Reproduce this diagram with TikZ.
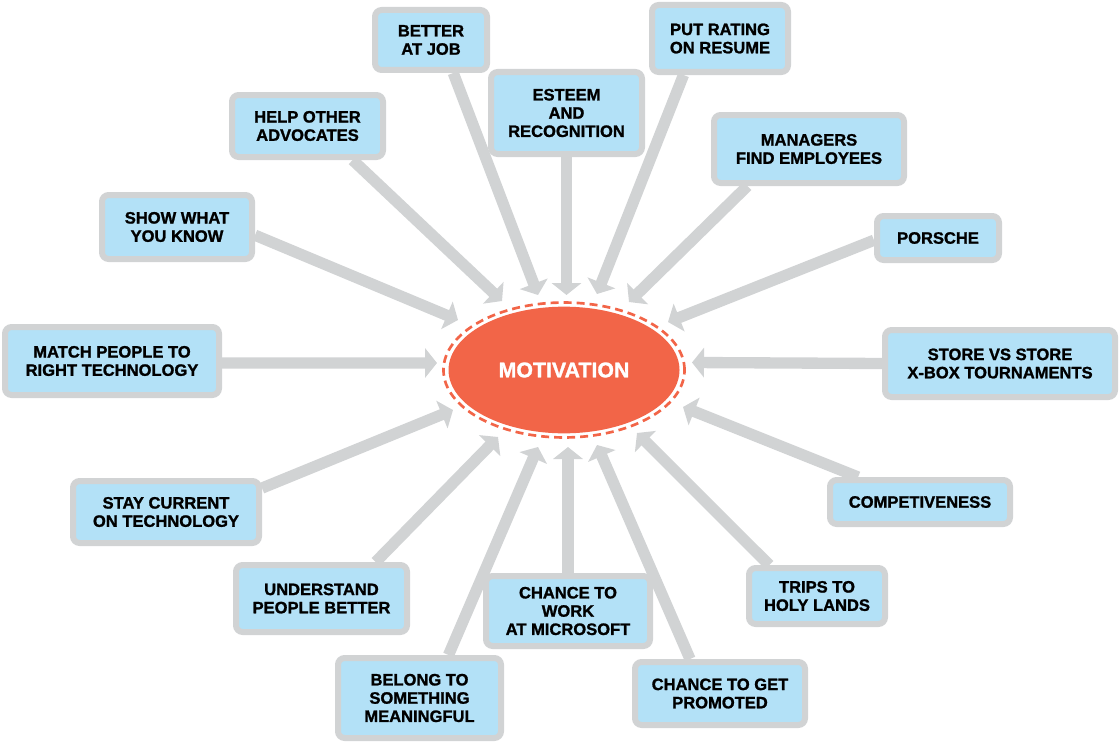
\documentclass[tikz,border=0pt]{standalone}
\usepackage{fontspec}
\setmainfont{Liberation Sans}[BoldFeatures={FakeBold=1.3}]
\usetikzlibrary{arrows.meta,backgrounds,shapes.geometric}
\definecolor{boxfill}{HTML}{B3E1F7}
\definecolor{boxline}{HTML}{D1D3D4}
\definecolor{arrgray}{HTML}{D1D3D4}
\definecolor{mot}{HTML}{F26548}
\begin{document}
\begin{tikzpicture}[x=0.75pt,y=-0.75pt,
  box/.style={draw=boxline, fill=boxfill, line width=4.5pt, rounded corners=5pt,
    align=center, inner sep=0pt, text=black,
    font=\bfseries\fontsize{12.4}{13.7}\selectfont},
  arr/.style={draw=arrgray, line width=8.5pt, -{Triangle[length=9pt,width=22pt]}},
  hub/.style={ellipse, fill=mot, inner sep=0pt, text=white,
    font=\bfseries\fontsize{16}{18}\selectfont},
  halo/.style={draw=mot, line width=2pt, dash pattern=on 6pt off 3.75pt}
]
\useasboundingbox (0,0) rectangle (1119,742);

% central node
\node[hub, minimum width=173.25pt, minimum height=95pt] (m) at (564,370) {MOTIVATION};
\draw[halo] (m.center) ellipse [x radius=90.4pt, y radius=50.6pt];

% boxes
\node[box, minimum width=84pt, minimum height=45pt] (b1) at (431,40) {BETTER\\AT JOB};
\node[box, minimum width=102pt, minimum height=50.25pt] (b2) at (720,38.5) {PUT RATING\\ON RESUME};
\node[box, minimum width=113.25pt, minimum height=61.5pt] (b3) at (566.5,113) {ESTEEM\\AND\\RECOGNITION};
\node[box, minimum width=113.25pt, minimum height=46.5pt] (b4) at (307.5,126) {HELP OTHER\\ADVOCATES};
\node[box, minimum width=142.5pt, minimum height=51pt] (b5) at (809,149) {MANAGERS\\FIND EMPLOYEES};
\node[box, minimum width=112.5pt, minimum height=48pt] (b6) at (177,227) {SHOW WHAT\\YOU KNOW};
\node[box, minimum width=91.5pt, minimum height=33pt] (b7) at (938,238) {PORSCHE};
\node[box, minimum width=160.5pt, minimum height=51pt] (b8) at (112,361) {MATCH PEOPLE TO\\RIGHT TECHNOLOGY};
\node[box, minimum width=172.5pt, minimum height=50.25pt] (b9) at (1000,363.5) {STORE VS STORE\\X-BOX TOURNAMENTS};
\node[box, minimum width=139.5pt, minimum height=46.5pt] (b10) at (166,512) {STAY CURRENT\\ON TECHNOLOGY};
\node[box, minimum width=135pt, minimum height=33pt] (b11) at (920,502) {COMPETIVENESS};
\node[box, minimum width=128.25pt, minimum height=50.25pt] (b12) at (321.5,598.5) {UNDERSTAND\\PEOPLE BETTER};
\node[box, minimum width=123pt, minimum height=52.5pt] (b13) at (568,611) {CHANCE TO\\WORK\\AT MICROSOFT};
\node[box, minimum width=102pt, minimum height=42pt] (b14) at (817,596) {TRIPS TO\\HOLY LANDS};
\node[box, minimum width=122.25pt, minimum height=60pt] (b15) at (419.5,698) {BELONG TO\\SOMETHING\\MEANINGFUL};
\node[box, minimum width=127.5pt, minimum height=47.25pt] (b16) at (720,693.5) {CHANCE TO GET\\PROMOTED};

% arrow tips
\coordinate (t1) at (538,295);
\coordinate (t2) at (597,294);
\coordinate (t3) at (566.5,295);
\coordinate (t4) at (502,301);
\coordinate (t5) at (629,302);
\coordinate (t6) at (458,320);
\coordinate (t7) at (668,322);
\coordinate (t8) at (437,363);
\coordinate (t9) at (692,362.5);
\coordinate (t10) at (453,410);
\coordinate (t11) at (683,407);
\coordinate (t12) at (498,437);
\coordinate (t13) at (568,447);
\coordinate (t14) at (637,433);
\coordinate (t15) at (538,447);
\coordinate (t16) at (597,445);

\begin{scope}[on background layer]
\draw[arr] (b1.-56) -- (t1);
\draw[arr] (b2.-135) -- (t2);
\draw[arr] (b3.south) -- (t3);
\draw[arr] (b4.-37) -- (t4);
\draw[arr] (b5.-149) -- (t5);
\draw[arr] (b6.-6) -- (t6);
\draw[arr] (b7.-178) -- (t7);
\draw[arr] (b8.-1) -- (t8);
\draw[arr] (b9.west) -- (t9);
\draw[arr] (b10.14) -- (t10);
\draw[arr] (b11.158) -- (t11);
\draw[arr] (b12.34) -- (t12);
\draw[arr] (b13.north) -- (t13);
\draw[arr] (b14.147) -- (t14);
\draw[arr] (b15.56) -- (t15);
\draw[arr] (b16.131) -- (t16);
\end{scope}
\end{tikzpicture}
\end{document}
